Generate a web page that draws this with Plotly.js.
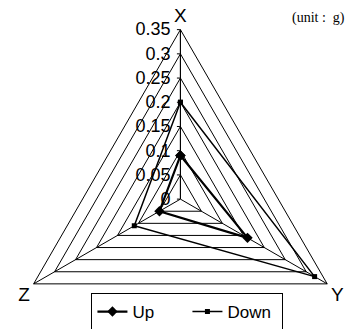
<!DOCTYPE html>
<html>
<head>
<meta charset="utf-8">
<script src="https://cdn.plot.ly/plotly-3.0.1.min.js"></script>
<style>
  html, body { margin: 0; padding: 0; overflow: hidden; background: #fff; }
  #chart { width: 351px; height: 380px; }
</style>
</head>
<body>
<div id="chart"></div>
<script>
  // axis names and values (unit: g)
  const axes = ['X', 'Y', 'Z'];
  const upValues = [0.09, 0.16, 0.05];
  const downValues = [0.2, 0.32, 0.11];
  const radialTicks = [0, 0.05, 0.1, 0.15, 0.2, 0.25, 0.3, 0.35];
  const radialTickText = ['0', '0.05', '0.1', '0.15', '0.2', '0.25', '0.3', '0.35'];

  // close the polygon by repeating the first point
  const closed = arr => arr.concat(arr.slice(0, 1));

  const traces = [
    {
      type: 'scatterpolar',
      name: 'Up',
      r: closed(upValues),
      theta: closed(axes),
      mode: 'lines+markers',
      line: {color: '#000', width: 2.2},
      marker: {symbol: 'diamond', size: 8, color: '#000'}
    },
    {
      type: 'scatterpolar',
      name: 'Down',
      r: closed(downValues),
      theta: closed(axes),
      mode: 'lines+markers',
      line: {color: '#000', width: 1.5},
      marker: {symbol: 'square', size: 5, color: '#000'}
    }
  ];

  const layout = {
    width: 351,
    height: 380,
    margin: {l: 0, r: 0, t: 0, b: 0},
    paper_bgcolor: '#fff',
    font: {family: 'Liberation Sans, Arial, sans-serif', color: '#000'},
    showlegend: true,
    legend: {
      orientation: 'h',
      x: 0.534,
      xanchor: 'center',
      y: 1 - 293 / 380,
      yanchor: 'top',
      bordercolor: '#000',
      borderwidth: 1,
      font: {size: 17},
      entrywidth: 50,
      tracegroupgap: 0
    },
    polar: {
      domain: {x: [0.031, 0.997], y: [0.03, 0.922]},
      gridshape: 'linear',
      bgcolor: '#fff',
      radialaxis: {
        range: [0, 0.35],
        tickvals: radialTicks,
        ticktext: radialTickText,
        angle: 90,
        side: 'counterclockwise',
        tickangle: 90,
        showline: true,
        linecolor: '#000',
        linewidth: 1,
        gridcolor: '#000',
        gridwidth: 1,
        ticks: 'outside',
        ticklen: 3,
        tickcolor: '#000',
        tickfont: {size: 18}
      },
      angularaxis: {
        rotation: 90,
        direction: 'clockwise',
        showline: true,
        linecolor: '#000',
        linewidth: 1,
        gridcolor: '#000',
        gridwidth: 1,
        ticks: '',
        tickfont: {size: 19}
      }
    },
    annotations: [
      {
        text: '(unit :  g)',
        xref: 'paper',
        yref: 'paper',
        x: 0.99,
        y: 1 - 18 / 380,
        xanchor: 'right',
        yanchor: 'middle',
        showarrow: false,
        font: {family: 'Liberation Serif, Times New Roman, serif', size: 14}
      }
    ]
  };

  Plotly.newPlot('chart', traces, layout, {displayModeBar: false, staticPlot: true});
</script>
</body>
</html>
